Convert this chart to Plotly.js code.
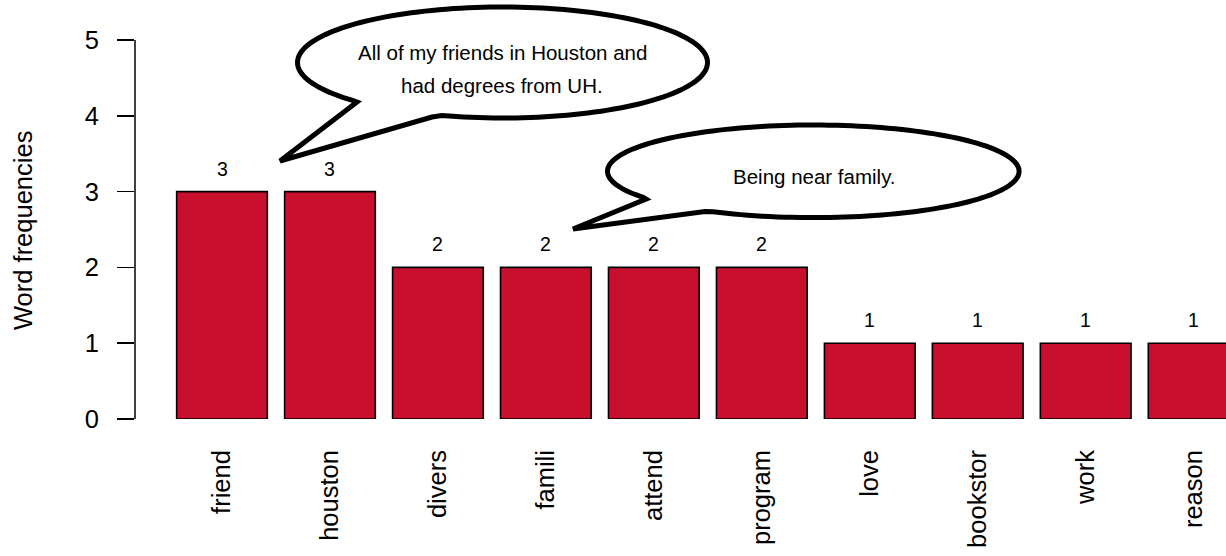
<!DOCTYPE html>
<html>
<head>
<meta charset="utf-8">
<script src="https://cdn.plot.ly/plotly-3.0.1.min.js"></script>
<style>html,body{margin:0;padding:0;background:#fff;}#chart{width:1226px;height:556px;}</style>
</head>
<body>
<div id="chart"></div>
<script>
// ---- data ----
var categories = ["friend", "houston", "divers", "famili", "attend", "program", "love", "bookstor", "work", "reason"];
var frequencies = [3, 3, 2, 2, 2, 2, 1, 1, 1, 1];
var yTicks = [0, 1, 2, 3, 4, 5];
var yTitle = "Word frequencies";
var quote1Lines = ["All of my friends in Houston and", "had degrees from UH."];
var quote2Lines = ["Being near family."];

// ---- geometry helpers (pixel -> paper) ----
var W = 1226, H = 556, ML = 135, MR = 0, MT = 0, MB = 137;
var PW = W - ML - MR, PH = H - MT - MB;
var YMAX = 5.5277;
function px(x) { return (x - ML) / PW; }
function py(y) { return 1 - (y - MT) / PH; }

function bubblePath(cx, cy, rx, ry, notch, tip, rejoin) {
  var tr = Math.atan2((rejoin[1] - cy) / ry, (rejoin[0] - cx) / rx);
  var tn = Math.atan2((notch[1] - cy) / ry, (notch[0] - cx) / rx);
  var tEnd = tn;
  while (tEnd > tr) tEnd -= 2 * Math.PI;
  var n = 160;
  var pts = [[rejoin[0], rejoin[1]]];
  for (var k = 1; k < n; k++) {
    var t = tr + (tEnd - tr) * k / n;
    pts.push([cx + rx * Math.cos(t), cy + ry * Math.sin(t)]);
  }
  pts.push([notch[0], notch[1]]);
  pts.push([tip[0], tip[1]]);
  var d = "";
  pts.forEach(function (p, i) {
    d += (i === 0 ? "M" : "L") + px(p[0]).toFixed(5) + "," + py(p[1]).toFixed(5);
  });
  return d + "Z";
}

var FONT = "Liberation Sans, Arial, Helvetica, sans-serif";

var trace = {
  type: "bar",
  x: categories,
  y: frequencies,
  marker: { color: "#C8102E", line: { color: "#000000", width: 1.6 } },
  hoverinfo: "x+y"
};

var annotations = categories.map(function (c, i) {
  return {
    x: c, y: frequencies[i], xref: "x", yref: "y",
    text: String(frequencies[i]), showarrow: false,
    yanchor: "middle", yshift: 23,
    font: { family: FONT, size: 19.5, color: "#000" }
  };
});

annotations.push({
  x: px(23), y: py(230), xref: "paper", yref: "paper",
  text: yTitle, textangle: -90, showarrow: false,
  xanchor: "center", yanchor: "middle",
  font: { family: FONT, size: 25.5, color: "#000" }
});

annotations.push({
  x: px(502), y: py(65), xref: "paper", yref: "paper",
  text: quote1Lines[0], showarrow: false, xanchor: "center", yanchor: "bottom",
  font: { family: FONT, size: 20.5, color: "#000" }, borderpad: 0
});
annotations.push({
  x: px(502), y: py(97.5), xref: "paper", yref: "paper",
  text: quote1Lines[1], showarrow: false, xanchor: "center", yanchor: "bottom",
  font: { family: FONT, size: 20.5, color: "#000" }, borderpad: 0
});
annotations.push({
  x: px(814), y: py(189), xref: "paper", yref: "paper",
  text: quote2Lines[0], showarrow: false, xanchor: "center", yanchor: "bottom",
  font: { family: FONT, size: 20.5, color: "#000" }, borderpad: 0
});

var shapes = [
  { type: "line", xref: "paper", yref: "paper", x0: 0, x1: 0,
    y0: 0, y1: 5 / YMAX, line: { color: "#000", width: 1.5 } },
  { type: "path", xref: "paper", yref: "paper", layer: "above",
    path: bubblePath(502.5, 62.5, 205, 55.5, [357, 102], [280, 161], [432, 117]),
    fillcolor: "#ffffff", line: { color: "#000", width: 5 } },
  { type: "path", xref: "paper", yref: "paper", layer: "above",
    path: bubblePath(813.3, 171.3, 205.8, 46.3, [646, 199], [573, 229], [705, 211.5]),
    fillcolor: "#ffffff", line: { color: "#000", width: 5 } }
];

var layout = {
  width: W, height: H,
  margin: { l: ML, r: MR, t: MT, b: MB, pad: 0 },
  paper_bgcolor: "#fff", plot_bgcolor: "#fff",
  showlegend: false,
  bargap: 0.16,
  font: { family: FONT, color: "#000" },
  xaxis: {
    type: "category",
    range: [-0.8059, 9.2997],
    tickangle: -90,
    ticks: "",
    showline: false, showgrid: false, zeroline: false,
    tickfont: { family: FONT, size: 25.5, color: "#000" },
    ticklabelstandoff: 25,
    fixedrange: true
  },
  yaxis: {
    range: [0, YMAX],
    tickmode: "array",
    tickvals: yTicks,
    ticktext: yTicks.map(String),
    ticks: "outside", ticklen: 17, tickwidth: 1.5, tickcolor: "#000",
    showline: false, showgrid: false, zeroline: false,
    tickfont: { family: FONT, size: 25.5, color: "#000" },
    ticklabelstandoff: 13,
    fixedrange: true
  },
  annotations: annotations,
  shapes: shapes
};

Plotly.newPlot("chart", [trace], layout, { displayModeBar: false, staticPlot: true });
</script>
</body>
</html>
